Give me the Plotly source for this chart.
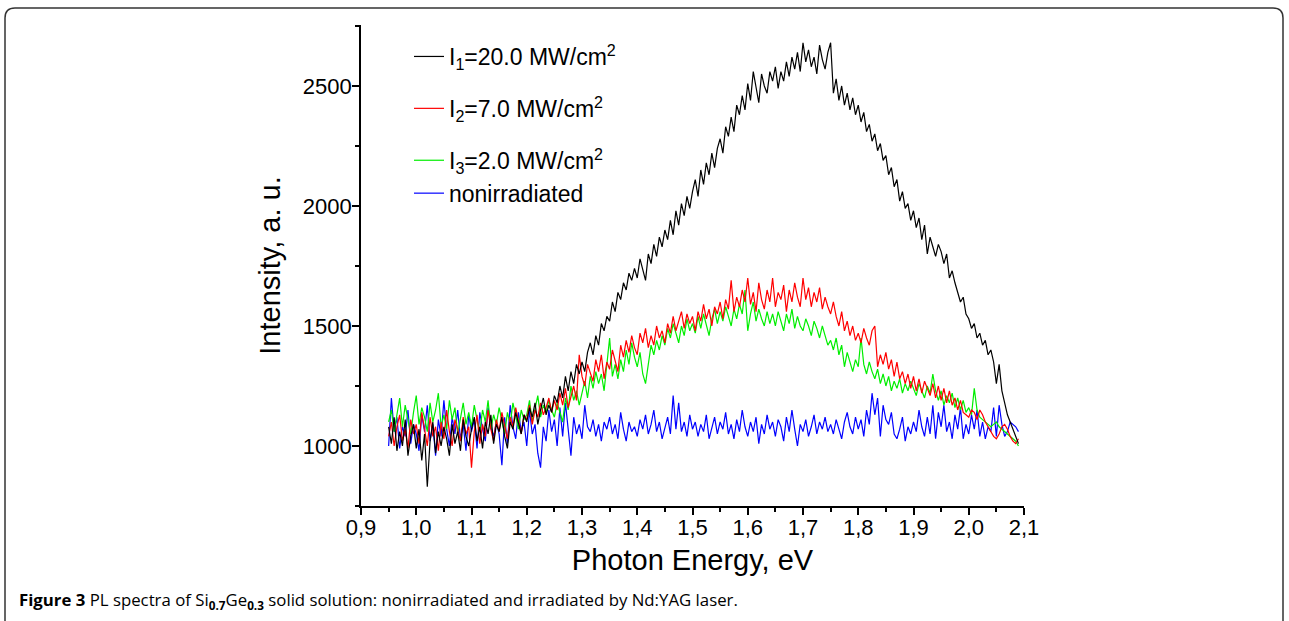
import plotly.graph_objects as go

# ---------------- data ----------------
energy = [
    0.950, 0.955, 0.960, 0.965, 0.970, 0.975, 0.980, 0.985, 0.990, 0.995,
    1.000, 1.005, 1.010, 1.015, 1.020, 1.025, 1.030, 1.035, 1.040, 1.045,
    1.050, 1.055, 1.060, 1.065, 1.070, 1.075, 1.080, 1.085, 1.090, 1.095,
    1.100, 1.105, 1.110, 1.115, 1.120, 1.125, 1.130, 1.135, 1.140, 1.145,
    1.150, 1.155, 1.160, 1.165, 1.170, 1.175, 1.180, 1.185, 1.190, 1.195,
    1.200, 1.205, 1.210, 1.215, 1.220, 1.225, 1.230, 1.235, 1.240, 1.245,
    1.250, 1.255, 1.260, 1.265, 1.270, 1.275, 1.280, 1.285, 1.290, 1.295,
    1.300, 1.305, 1.310, 1.315, 1.320, 1.325, 1.330, 1.335, 1.340, 1.345,
    1.350, 1.355, 1.360, 1.365, 1.370, 1.375, 1.380, 1.385, 1.390, 1.395,
    1.400, 1.405, 1.410, 1.415, 1.420, 1.425, 1.430, 1.435, 1.440, 1.445,
    1.450, 1.455, 1.460, 1.465, 1.470, 1.475, 1.480, 1.485, 1.490, 1.495,
    1.500, 1.505, 1.510, 1.515, 1.520, 1.525, 1.530, 1.535, 1.540, 1.545,
    1.550, 1.555, 1.560, 1.565, 1.570, 1.575, 1.580, 1.585, 1.590, 1.595,
    1.600, 1.605, 1.610, 1.615, 1.620, 1.625, 1.630, 1.635, 1.640, 1.645,
    1.650, 1.655, 1.660, 1.665, 1.670, 1.675, 1.680, 1.685, 1.690, 1.695,
    1.700, 1.705, 1.710, 1.715, 1.720, 1.725, 1.730, 1.735, 1.740, 1.745,
    1.750, 1.755, 1.760, 1.765, 1.770, 1.775, 1.780, 1.785, 1.790, 1.795,
    1.800, 1.805, 1.810, 1.815, 1.820, 1.825, 1.830, 1.835, 1.840, 1.845,
    1.850, 1.855, 1.860, 1.865, 1.870, 1.875, 1.880, 1.885, 1.890, 1.895,
    1.900, 1.905, 1.910, 1.915, 1.920, 1.925, 1.930, 1.935, 1.940, 1.945,
    1.950, 1.955, 1.960, 1.965, 1.970, 1.975, 1.980, 1.985, 1.990, 1.995,
    2.000, 2.005, 2.010, 2.015, 2.020, 2.025, 2.030, 2.035, 2.040, 2.045,
    2.050, 2.055, 2.060, 2.065, 2.070, 2.075, 2.080, 2.085, 2.090,
]

i1_20mw = [
    1080, 1010, 1120, 980, 1060, 1000, 1110, 960, 1040, 1090,
    990, 1070, 940, 1050, 830, 1020, 1100, 970, 1060, 1000,
    1080, 1030, 960, 1090, 1010, 1060, 980, 1110, 1040, 1000,
    1070, 1120, 1020, 1080, 990, 1100, 1050, 1130, 1010, 1090,
    1060, 1120, 1040, 990, 1100, 1070, 1140, 1090, 1050, 1130,
    1100, 1160, 1120, 1180, 1090, 1150, 1200, 1130, 1170, 1140,
    1210, 1180, 1250, 1200, 1290, 1230, 1310, 1260, 1340, 1300,
    1350, 1310, 1390, 1430, 1380, 1460, 1420, 1510, 1480, 1540,
    1520, 1600, 1560, 1640, 1610, 1680, 1650, 1720, 1690, 1740,
    1700, 1780, 1740, 1690, 1800, 1760, 1840, 1790, 1870, 1830,
    1900, 1860, 1940, 1880, 1980, 1920, 2010, 1960, 2040, 1990,
    2060, 2110, 2040, 2150, 2090, 2180, 2130, 2220, 2160, 2240,
    2280, 2220, 2330, 2290, 2370, 2310, 2420, 2380, 2460, 2400,
    2510, 2440, 2560, 2490, 2430, 2550, 2500, 2470, 2560, 2520,
    2580, 2490, 2560, 2520, 2600, 2540, 2620, 2570, 2640, 2560,
    2680, 2600, 2650, 2580, 2620, 2550, 2670, 2610, 2570, 2640,
    2680, 2470, 2530, 2440, 2500, 2420, 2470, 2400, 2450, 2380,
    2420, 2350, 2390, 2310, 2340, 2270, 2300, 2230, 2260, 2190,
    2210, 2130, 2160, 2080, 2110, 2020, 2060, 1990, 2010, 1940,
    1980, 1910, 1950, 1860, 1920, 1800, 1870, 1830, 1790, 1840,
    1810, 1760, 1800, 1700, 1730, 1680, 1640, 1600, 1620, 1550,
    1530, 1490, 1510, 1450, 1470, 1420, 1440, 1380, 1400, 1350,
    1260, 1340, 1230, 1180, 1130, 1100, 1070, 1040, 1010,
]

i2_7mw = [
    1040, 1100, 1000, 1080, 1130, 1020, 1070, 990, 1110, 1050,
    1090, 1010, 1140, 1060, 1000, 1120, 1040, 1080, 980, 1100,
    1030, 1150, 1060, 1000, 1110, 1070, 1020, 1120, 1050, 1080,
    910, 1060, 1130, 1010, 1090, 1040, 1150, 1070, 1020, 1110,
    1060, 1140, 1090, 1030, 1120, 1080, 1160, 1100, 1050, 1130,
    1110, 1170, 1090, 1150, 1120, 1180, 1130, 1160, 1200, 1140,
    1190, 1150, 1220, 1170, 1240, 1160, 1210, 1250, 1190, 1380,
    1290, 1250, 1340, 1300, 1270, 1360, 1310, 1380, 1280, 1350,
    1320, 1400, 1350, 1310, 1420, 1370, 1440, 1390, 1460, 1410,
    1380, 1470, 1430, 1490, 1410, 1460, 1420, 1500, 1450, 1480,
    1430, 1510, 1470, 1540, 1480, 1520, 1560, 1490, 1550, 1510,
    1540, 1480, 1560, 1520, 1590, 1530, 1570, 1500, 1580, 1550,
    1600, 1530, 1610, 1570, 1690, 1560, 1620, 1580, 1650, 1600,
    1700, 1590, 1640, 1560, 1680, 1610, 1570, 1650, 1600, 1700,
    1580, 1640, 1610, 1670, 1560, 1650, 1600, 1680, 1620, 1580,
    1700, 1610, 1660, 1580, 1640, 1600, 1660, 1570, 1620, 1580,
    1550, 1600, 1540, 1500, 1560, 1480, 1520, 1460, 1500, 1440,
    1470, 1430, 1490, 1450, 1420, 1480, 1500, 1330, 1380, 1340,
    1390, 1320, 1360, 1290, 1350, 1280, 1310, 1260, 1300, 1240,
    1290, 1230, 1280, 1220, 1270, 1240, 1210, 1260, 1200, 1250,
    1190, 1240, 1180, 1230, 1170, 1200, 1150, 1190, 1140, 1130,
    1120, 1150, 1140, 1110, 1150, 1130, 1100, 1080, 1060, 1040,
    1030, 1050, 1080, 1090, 1070, 1040, 1020, 1010, 1030,
]

i3_2mw = [
    1100, 1150, 1060, 1130, 1200, 1080, 1170, 1110, 1050, 1140,
    1210, 1090, 1160, 1120, 1060, 1180, 1100, 1150, 1220, 1080,
    1130, 1070, 1190, 1110, 1160, 1050, 1120, 1180, 1090, 1140,
    1080, 1170, 1110, 1060, 1150, 1100, 1190, 1070, 1130, 1090,
    1160, 1100, 1050, 1140, 1090, 1180, 1120, 1070, 1150, 1110,
    1130, 1190, 1100, 1160, 1210, 1120, 1170, 1140, 1190, 1150,
    1120, 1180, 1140, 1100, 1200, 1150, 1250, 1190, 1230, 1170,
    1220, 1270, 1200, 1290, 1240, 1310, 1260, 1300, 1230, 1330,
    1450, 1290, 1340, 1280, 1360, 1310, 1400, 1340, 1430, 1370,
    1330, 1390, 1300, 1260, 1350, 1420, 1380, 1440, 1400, 1460,
    1420, 1490, 1450, 1510, 1470, 1430, 1500, 1460, 1530, 1480,
    1510, 1470, 1540, 1490, 1550, 1500, 1460, 1530, 1570, 1510,
    1560, 1520, 1580, 1540, 1500, 1570, 1530, 1590, 1550, 1650,
    1480, 1550, 1600, 1520, 1570, 1530, 1500, 1560, 1510, 1550,
    1500, 1560, 1520, 1480, 1550, 1510, 1570, 1490, 1540, 1500,
    1480, 1530, 1500, 1460, 1520, 1490, 1450, 1500, 1460, 1420,
    1440, 1400, 1450, 1380, 1420, 1330, 1390, 1350, 1310, 1360,
    1330, 1450, 1340, 1300, 1350, 1310, 1280, 1320, 1260, 1300,
    1250, 1290, 1230, 1270, 1240, 1280, 1220, 1260, 1230, 1270,
    1240, 1210, 1260, 1230, 1200, 1250, 1220, 1300, 1230, 1190,
    1230, 1170, 1210, 1180, 1220, 1160, 1200, 1150, 1190, 1140,
    1160, 1130, 1240, 1150, 1120, 1110, 1100, 1090, 1080, 1090,
    1100, 1080, 1070, 1060, 1050, 1040, 1030, 1020, 1000,
]

nonirradiated = [
    1000, 1200, 1060, 1120, 990, 1080, 1040, 1150, 1010, 1090,
    1050, 980, 1130, 1060, 1170, 1020, 1090, 960, 1110, 1040,
    1190, 1070, 1000, 1120, 1050, 1150, 1030, 1090, 980, 1130,
    1060, 1110, 990, 1140, 1070, 1020, 1160, 1080, 1040, 1100,
    1050, 920, 1120, 1010, 1170, 1080, 1030, 1140, 1060, 1100,
    1000, 1150, 1050, 1090, 970, 910, 1080, 1020, 1150, 1060,
    1110, 1000, 1160, 1040, 1180, 1070, 960, 1120, 1050, 1090,
    1030, 1170, 1080, 1060, 1110, 1040, 1090, 1020, 1100, 1070,
    1120, 1050, 1090, 1030, 1140, 1070, 1020, 1100, 1060, 1080,
    1040, 1110, 1070, 1130, 1050, 1090, 1150, 1060, 1100, 1030,
    1080, 1120, 1050, 1210, 1070, 1180, 1060, 1100, 1040, 1130,
    1070, 1100, 1040, 1090, 1060, 1130, 1030, 1080, 1120, 1050,
    1100, 1070, 1140, 1050, 1090, 1030, 1110, 1060, 1150, 1080,
    1040, 1100, 1060, 1120, 1010, 1090, 1050, 1130, 1070, 1100,
    1040, 1110, 1080, 1020, 1120, 1060, 1150, 1070, 1000, 1090,
    1060, 1110, 1040, 1080, 1130, 1050, 1100, 1070, 1120, 1060,
    1090, 1050, 1110, 1070, 1030, 1100, 1140, 1080, 1050, 1120,
    1070, 1110, 1040, 1150, 1090, 1220, 1130, 1200, 1040, 1170,
    1110, 1090, 1140, 1050, 1030, 1070, 1120, 1020, 1080, 1050,
    1100, 1060, 1150, 1080, 1040, 1120, 1050, 1170, 1030, 1140,
    1080, 1170, 1060, 1100, 1030, 1130, 1070, 1160, 1030, 1090,
    1050, 1130, 1070, 1150, 1040, 1100, 1030, 1080, 1060, 1160,
    1040, 1170, 1090, 1040, 1060, 1100, 1090, 1080, 1060,
]

series_names = [
    "I<sub>1</sub>=20.0 MW/cm<sup>2</sup>",
    "I<sub>2</sub>=7.0 MW/cm<sup>2</sup>",
    "I<sub>3</sub>=2.0 MW/cm<sup>2</sup>",
    "nonirradiated",
]
series_values = [i1_20mw, i2_7mw, i3_2mw, nonirradiated]
series_colors = ["#000000", "#ff0000", "#00ee00", "#0000ff"]

x_tick_vals = [0.9, 1.0, 1.1, 1.2, 1.3, 1.4, 1.5, 1.6, 1.7, 1.8, 1.9, 2.0, 2.1]
x_tick_labels = ["0,9", "1,0", "1,1", "1,2", "1,3", "1,4", "1,5", "1,6",
                 "1,7", "1,8", "1,9", "2,0", "2,1"]
y_tick_vals = [1000, 1500, 2000, 2500]
y_tick_labels = ["1000", "1500", "2000", "2500"]

# ---------------- figure ----------------
W, H = 1289, 621
L, R, T, B = 361, 265, 25, 115
pw, ph = W - L - R, H - T - B

def px(x):
    return (x - L) / pw

def py(y):
    return (H - B - y) / ph

legend_groups = ["a", "b", "c", "c"]

fig = go.Figure()
# draw order: blue first, black last (on top)
for k in [3, 2, 1, 0]:
    fig.add_trace(go.Scatter(
        x=energy, y=series_values[k], mode="lines", name=series_names[k],
        line=dict(color=series_colors[k], width=1.2),
        legendrank=k + 1, legendgroup=legend_groups[k],
    ))

font_main = "Arial, Liberation Sans, sans-serif"

fig.update_layout(
    width=W, height=H,
    margin=dict(l=L, r=R, t=T, b=B, autoexpand=False),
    paper_bgcolor="white", plot_bgcolor="white",
    font=dict(family=font_main, color="black", size=22),
    showlegend=True,
    legend=dict(
        x=px(409), y=py(35), xanchor="left", yanchor="top",
        font=dict(family=font_main, size=23, color="black"),
        bgcolor="rgba(0,0,0,0)", tracegroupgap=19,
        traceorder="grouped",
    ),
    xaxis=dict(
        range=[0.9, 2.1], tickmode="array", tickvals=x_tick_vals,
        ticktext=x_tick_labels, ticks="outside", ticklen=7, tickwidth=1.5,
        tickcolor="black", showline=True, linecolor="black", linewidth=1.8,
        showgrid=False, zeroline=False, mirror=False,
        ticklabelstandoff=-6,
        tickfont=dict(family=font_main, size=22, color="black"),
        minor=dict(ticks="outside", ticklen=4, tickwidth=1.5,
                   tickcolor="black", dtick=0.05, tick0=0.9, showgrid=False),
        title=dict(text="Photon Energy, eV", standoff=10,
                   font=dict(family=font_main, size=29, color="black")),
    ),
    yaxis=dict(
        range=[750, 2754], tickmode="array", tickvals=y_tick_vals,
        ticktext=y_tick_labels, ticks="outside", ticklen=7, tickwidth=1.5,
        tickcolor="black", showline=True, linecolor="black", linewidth=1.8,
        showgrid=False, zeroline=False, mirror=False,
        ticklabelstandoff=-4,
        tickfont=dict(family=font_main, size=22, color="black"),
        minor=dict(ticks="outside", ticklen=4, tickwidth=1.5,
                   tickcolor="black", dtick=250, tick0=750, showgrid=False),
        title=dict(text="Intensity, a. u.", standoff=14,
                   font=dict(family=font_main, size=29, color="black")),
    ),
)

# outer rounded frame (open at the bottom)
x0, x1, y0, rr = 5, 1283, 8, 10
path = (f"M {px(x0)},{py(H + 30)} L {px(x0)},{py(y0 + rr)} "
        f"Q {px(x0)},{py(y0)} {px(x0 + rr)},{py(y0)} "
        f"L {px(x1 - rr)},{py(y0)} Q {px(x1)},{py(y0)} {px(x1)},{py(y0 + rr)} "
        f"L {px(x1)},{py(H + 30)}")
fig.add_shape(type="path", path=path, xref="paper", yref="paper",
              line=dict(color="#333333", width=1.5), layer="above")

# caption
fig.add_annotation(
    x=px(17), y=py(600), xref="paper", yref="paper",
    xanchor="left", yanchor="middle", showarrow=False, align="left",
    text=("<b>Figure 3</b> PL spectra of Si<sub><b>0.7</b></sub>Ge<sub><b>0.3</b></sub> "
          "solid solution: nonirradiated and irradiated by Nd:YAG laser."),
    font=dict(family="Open Sans, Noto Sans, sans-serif", size=16.8, color="black"),
)

fig.write_html("out.html", config={"displayModeBar": False},
               post_script="document.body.style.margin='0';")
